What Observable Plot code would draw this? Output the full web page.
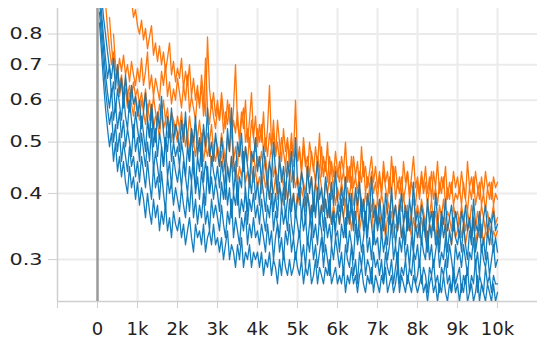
<!DOCTYPE html>
<html>
<head>
<meta charset="utf-8">
<script src="https://cdn.jsdelivr.net/npm/d3@7"></script>
<script src="https://cdn.jsdelivr.net/npm/@observablehq/plot@0.6"></script>
<style>
  html, body { margin: 0; padding: 0; background: #fff; }
</style>
</head>
<body>
<div id="chart"></div>
<script>
// Training steps (every 50 steps)
const steps = d3.range(50, 10001, 50);

// Blue runs (20 values per 1k steps)
const blue1 = [
  1.02,0.95,0.86,0.80,0.74,0.69,0.66,0.72,0.63,0.70,0.62,0.66,0.58,0.67,0.60,0.57,0.64,0.59,0.61,0.56,
  0.60,0.53,0.57,0.62,0.55,0.51,0.59,0.54,0.50,0.57,0.53,0.61,0.52,0.49,0.56,0.51,0.58,0.50,0.54,0.52,
  0.48,0.55,0.50,0.57,0.49,0.46,0.53,0.50,0.56,0.47,0.51,0.45,0.54,0.49,0.58,0.47,0.50,0.46,0.52,0.48,
  0.45,0.51,0.47,0.44,0.53,0.48,0.58,0.46,0.43,0.50,0.47,0.52,0.44,0.49,0.45,0.42,0.48,0.46,0.51,0.44,
  0.47,0.42,0.49,0.45,0.41,0.46,0.43,0.50,0.44,0.40,0.47,0.42,0.45,0.39,0.46,0.43,0.48,0.41,0.51,0.42,
  0.39,0.44,0.41,0.38,0.45,0.40,0.43,0.37,0.42,0.46,0.39,0.41,0.37,0.43,0.40,0.36,0.42,0.38,0.44,0.39,
  0.37,0.41,0.38,0.43,0.36,0.40,0.37,0.35,0.41,0.38,0.42,0.36,0.39,0.35,0.40,0.37,0.43,0.36,0.38,0.35,
  0.39,0.36,0.34,0.40,0.37,0.35,0.41,0.36,0.38,0.34,0.37,0.40,0.35,0.38,0.34,0.39,0.36,0.42,0.35,0.37,
  0.34,0.38,0.36,0.33,0.39,0.35,0.37,0.34,0.40,0.36,0.33,0.37,0.35,0.39,0.34,0.36,0.38,0.34,0.37,0.35,
  0.33,0.37,0.35,0.38,0.34,0.36,0.33,0.39,0.35,0.34,0.37,0.33,0.36,0.38,0.34,0.36,0.35,0.37,0.34,0.35];
const blue2 = [
  0.96,0.88,0.79,0.72,0.66,0.70,0.61,0.65,0.57,0.63,0.59,0.55,0.62,0.56,0.53,0.60,0.55,0.51,0.57,0.53,
  0.50,0.56,0.52,0.48,0.55,0.51,0.58,0.49,0.53,0.47,0.52,0.49,0.45,0.51,0.48,0.54,0.46,0.50,0.47,0.49,
  0.45,0.50,0.47,0.43,0.49,0.46,0.52,0.44,0.41,0.47,0.44,0.50,0.42,0.46,0.43,0.40,0.47,0.44,0.42,0.45,
  0.41,0.46,0.43,0.39,0.45,0.42,0.47,0.40,0.44,0.38,0.43,0.41,0.48,0.40,0.37,0.43,0.40,0.45,0.39,0.42,
  0.38,0.43,0.40,0.37,0.42,0.39,0.44,0.37,0.40,0.36,0.42,0.38,0.41,0.36,0.39,0.43,0.37,0.40,0.36,0.39,
  0.41,0.36,0.39,0.35,0.40,0.37,0.34,0.39,0.36,0.41,0.35,0.38,0.34,0.39,0.36,0.40,0.35,0.37,0.34,0.38,
  0.35,0.39,0.36,0.33,0.38,0.35,0.40,0.34,0.37,0.33,0.36,0.39,0.34,0.37,0.33,0.38,0.35,0.32,0.37,0.34,
  0.36,0.33,0.38,0.34,0.32,0.37,0.34,0.36,0.32,0.35,0.38,0.33,0.35,0.32,0.37,0.34,0.36,0.31,0.35,0.33,
  0.35,0.32,0.36,0.33,0.31,0.35,0.33,0.37,0.32,0.34,0.31,0.36,0.33,0.35,0.31,0.34,0.32,0.36,0.33,0.32,
  0.34,0.31,0.35,0.32,0.30,0.34,0.32,0.36,0.31,0.33,0.35,0.31,0.33,0.30,0.34,0.32,0.35,0.31,0.33,0.31];
const blue3 = [
  0.92,0.84,0.75,0.67,0.62,0.58,0.63,0.55,0.59,0.53,0.57,0.51,0.55,0.49,0.53,0.50,0.47,0.54,0.48,0.51,
  0.46,0.52,0.48,0.45,0.50,0.46,0.53,0.44,0.48,0.45,0.42,0.49,0.45,0.51,0.43,0.46,0.41,0.47,0.44,0.42,
  0.45,0.41,0.46,0.43,0.40,0.45,0.42,0.48,0.40,0.43,0.39,0.44,0.41,0.38,0.45,0.40,0.43,0.39,0.42,0.40,
  0.37,0.42,0.39,0.44,0.38,0.41,0.36,0.40,0.38,0.42,0.36,0.39,0.37,0.41,0.35,0.39,0.37,0.40,0.36,0.38,
  0.35,0.39,0.36,0.34,0.38,0.36,0.40,0.34,0.37,0.35,0.33,0.38,0.35,0.37,0.34,0.39,0.35,0.33,0.37,0.35,
  0.33,0.37,0.34,0.36,0.32,0.35,0.38,0.33,0.35,0.32,0.36,0.34,0.31,0.36,0.33,0.35,0.32,0.37,0.33,0.34,
  0.31,0.35,0.33,0.36,0.31,0.34,0.32,0.30,0.35,0.32,0.34,0.31,0.33,0.36,0.31,0.33,0.30,0.34,0.32,0.33,
  0.30,0.34,0.31,0.33,0.30,0.32,0.35,0.30,0.32,0.29,0.33,0.31,0.34,0.30,0.32,0.29,0.33,0.31,0.30,0.32,
  0.29,0.33,0.31,0.30,0.34,0.30,0.32,0.29,0.31,0.33,0.29,0.31,0.30,0.33,0.29,0.32,0.30,0.28,0.32,0.30,
  0.31,0.29,0.32,0.30,0.28,0.31,0.30,0.33,0.29,0.31,0.28,0.32,0.30,0.29,0.31,0.28,0.30,0.32,0.29,0.30];
const blue4 = [
  0.88,0.79,0.70,0.63,0.58,0.54,0.57,0.50,0.54,0.48,0.52,0.46,0.50,0.47,0.44,0.49,0.45,0.47,0.43,0.46,
  0.42,0.47,0.44,0.41,0.46,0.42,0.39,0.45,0.41,0.43,0.39,0.44,0.40,0.37,0.43,0.40,0.42,0.38,0.41,0.39,
  0.37,0.41,0.38,0.36,0.40,0.37,0.42,0.36,0.39,0.35,0.38,0.36,0.40,0.35,0.37,0.34,0.39,0.36,0.38,0.36,
  0.34,0.38,0.35,0.33,0.37,0.35,0.39,0.33,0.36,0.34,0.32,0.36,0.34,0.37,0.32,0.35,0.33,0.36,0.33,0.34,
  0.32,0.35,0.33,0.31,0.35,0.32,0.34,0.30,0.33,0.35,0.31,0.33,0.30,0.34,0.32,0.35,0.31,0.33,0.30,0.32,
  0.34,0.30,0.32,0.29,0.33,0.31,0.34,0.30,0.32,0.29,0.31,0.33,0.29,0.32,0.30,0.28,0.32,0.30,0.33,0.31,
  0.29,0.31,0.28,0.32,0.30,0.29,0.32,0.28,0.30,0.27,0.31,0.29,0.32,0.28,0.30,0.29,0.27,0.31,0.29,0.30,
  0.28,0.30,0.27,0.31,0.29,0.28,0.30,0.27,0.29,0.31,0.27,0.29,0.28,0.30,0.27,0.29,0.28,0.31,0.27,0.28,
  0.30,0.27,0.29,0.28,0.26,0.29,0.28,0.30,0.27,0.28,0.26,0.29,0.28,0.30,0.27,0.28,0.26,0.29,0.27,0.28,
  0.29,0.26,0.28,0.27,0.29,0.26,0.28,0.27,0.30,0.26,0.28,0.27,0.26,0.29,0.27,0.28,0.26,0.28,0.27,0.27];
const blue5 = [
  0.84,0.74,0.65,0.58,0.53,0.49,0.52,0.46,0.50,0.44,0.47,0.43,0.46,0.42,0.40,0.45,0.41,0.43,0.39,0.42,
  0.38,0.41,0.39,0.36,0.40,0.37,0.35,0.39,0.36,0.38,0.34,0.37,0.35,0.38,0.34,0.36,0.33,0.37,0.35,0.34,
  0.36,0.33,0.35,0.32,0.34,0.36,0.33,0.31,0.35,0.33,0.34,0.32,0.35,0.31,0.33,0.34,0.32,0.35,0.32,0.33,
  0.31,0.33,0.30,0.32,0.34,0.30,0.32,0.31,0.29,0.32,0.30,0.33,0.29,0.31,0.30,0.32,0.29,0.31,0.30,0.31,
  0.29,0.31,0.28,0.30,0.29,0.31,0.28,0.30,0.29,0.27,0.30,0.28,0.31,0.29,0.28,0.30,0.28,0.29,0.31,0.29,
  0.28,0.30,0.27,0.29,0.28,0.30,0.27,0.28,0.30,0.27,0.29,0.28,0.27,0.29,0.28,0.30,0.27,0.28,0.29,0.27,
  0.28,0.27,0.29,0.26,0.28,0.27,0.29,0.27,0.28,0.26,0.28,0.29,0.27,0.26,0.28,0.27,0.29,0.26,0.28,0.27,
  0.26,0.28,0.27,0.29,0.26,0.27,0.28,0.26,0.27,0.29,0.26,0.28,0.27,0.26,0.28,0.27,0.26,0.28,0.27,0.26,
  0.27,0.28,0.26,0.27,0.25,0.27,0.28,0.26,0.27,0.25,0.27,0.26,0.28,0.26,0.25,0.27,0.26,0.28,0.26,0.27,
  0.25,0.27,0.26,0.28,0.25,0.26,0.27,0.25,0.26,0.28,0.25,0.27,0.26,0.25,0.27,0.26,0.25,0.27,0.25,0.26];

// Orange runs (null = run not yet logging)
const orange1 = [
  null,null,null,null,null,null,null,null,null,null,null,null,null,null,0.96,0.90,0.93,0.86,0.89,0.83,
  0.80,0.85,0.78,0.82,0.75,0.79,0.83,0.73,0.77,0.71,0.76,0.70,0.74,0.68,0.72,0.77,0.67,0.71,0.65,0.69,
  0.66,0.72,0.63,0.68,0.64,0.70,0.61,0.66,0.60,0.64,0.58,0.67,0.61,0.56,0.79,0.63,0.58,0.62,0.56,0.60,
  0.55,0.62,0.57,0.53,0.60,0.55,0.52,0.58,0.70,0.54,0.51,0.57,0.53,0.60,0.50,0.55,0.62,0.51,0.56,0.49,
  0.54,0.50,0.57,0.48,0.53,0.64,0.49,0.52,0.47,0.55,0.50,0.46,0.53,0.48,0.51,0.45,0.50,0.47,0.60,0.46,
  0.49,0.44,0.51,0.46,0.43,0.50,0.47,0.44,0.49,0.45,0.52,0.43,0.47,0.44,0.50,0.42,0.46,0.43,0.48,0.44,
  0.42,0.47,0.44,0.50,0.42,0.45,0.41,0.47,0.43,0.46,0.41,0.49,0.43,0.45,0.41,0.44,0.47,0.42,0.45,0.41,
  0.44,0.40,0.46,0.42,0.44,0.40,0.47,0.42,0.45,0.41,0.43,0.39,0.46,0.42,0.44,0.40,0.43,0.47,0.41,0.43,
  0.40,0.44,0.41,0.45,0.40,0.43,0.39,0.44,0.41,0.46,0.40,0.43,0.41,0.45,0.39,0.42,0.40,0.44,0.41,0.43,
  0.40,0.44,0.41,0.39,0.46,0.41,0.43,0.40,0.44,0.41,0.39,0.43,0.40,0.44,0.41,0.42,0.39,0.43,0.41,0.42];
const orange2 = [
  null,null,null,0.92,0.82,0.75,0.70,0.74,0.69,0.66,0.72,0.68,0.73,0.67,0.70,0.65,0.71,0.67,0.64,0.69,
  0.65,0.72,0.64,0.68,0.74,0.63,0.67,0.61,0.66,0.63,0.60,0.68,0.64,0.70,0.61,0.65,0.59,0.63,0.60,0.66,
  0.62,0.58,0.64,0.60,0.67,0.57,0.61,0.58,0.55,0.62,0.59,0.64,0.56,0.72,0.58,0.54,0.60,0.56,0.53,0.58,
  0.55,0.60,0.52,0.57,0.54,0.59,0.51,0.55,0.52,0.57,0.50,0.55,0.58,0.50,0.53,0.49,0.55,0.51,0.48,0.53,
  0.50,0.54,0.48,0.51,0.47,0.52,0.49,0.55,0.47,0.50,0.46,0.51,0.48,0.45,0.50,0.47,0.52,0.45,0.48,0.46,
  0.48,0.44,0.49,0.45,0.47,0.43,0.48,0.45,0.42,0.47,0.44,0.49,0.43,0.46,0.42,0.47,0.44,0.41,0.45,0.43,
  0.46,0.42,0.44,0.41,0.45,0.42,0.47,0.41,0.43,0.40,0.44,0.42,0.46,0.40,0.43,0.41,0.44,0.40,0.42,0.39,
  0.43,0.40,0.44,0.41,0.39,0.43,0.40,0.45,0.39,0.42,0.40,0.43,0.39,0.41,0.44,0.39,0.42,0.40,0.38,0.42,
  0.39,0.43,0.40,0.42,0.38,0.41,0.44,0.39,0.41,0.38,0.42,0.40,0.43,0.38,0.41,0.39,0.42,0.38,0.40,0.39,
  0.41,0.38,0.42,0.39,0.37,0.41,0.39,0.43,0.38,0.40,0.42,0.38,0.40,0.37,0.41,0.39,0.42,0.38,0.40,0.39];
const orange3 = [
  null,null,null,null,null,0.86,0.76,0.70,0.66,0.69,0.64,0.67,0.62,0.66,0.61,0.64,0.60,0.65,0.61,0.63,
  0.59,0.62,0.58,0.63,0.57,0.60,0.56,0.61,0.57,0.54,0.59,0.56,0.60,0.55,0.58,0.53,0.57,0.55,0.52,0.56,
  0.53,0.57,0.52,0.55,0.51,0.56,0.52,0.49,0.54,0.51,0.55,0.50,0.53,0.48,0.52,0.50,0.54,0.48,0.51,0.49,
  0.47,0.52,0.49,0.46,0.51,0.48,0.53,0.46,0.49,0.45,0.50,0.47,0.44,0.49,0.46,0.51,0.45,0.48,0.44,0.47,
  0.45,0.48,0.44,0.47,0.43,0.46,0.49,0.43,0.45,0.42,0.46,0.44,0.41,0.45,0.43,0.47,0.42,0.44,0.41,0.43,
  0.41,0.44,0.42,0.40,0.44,0.41,0.43,0.39,0.42,0.40,0.44,0.41,0.38,0.42,0.40,0.43,0.39,0.41,0.38,0.41,
  0.39,0.42,0.40,0.38,0.41,0.39,0.43,0.38,0.40,0.37,0.41,0.39,0.37,0.40,0.38,0.41,0.37,0.39,0.36,0.39,
  0.37,0.40,0.38,0.36,0.39,0.37,0.40,0.36,0.38,0.35,0.39,0.37,0.40,0.36,0.38,0.35,0.37,0.39,0.36,0.38,
  0.36,0.39,0.37,0.35,0.38,0.36,0.39,0.35,0.37,0.34,0.38,0.36,0.39,0.35,0.37,0.36,0.34,0.38,0.36,0.37,
  0.35,0.38,0.36,0.34,0.37,0.35,0.38,0.36,0.34,0.37,0.35,0.38,0.36,0.34,0.37,0.35,0.36,0.38,0.35,0.36];
const orange4 = [
  null,null,null,null,null,null,null,0.80,0.70,0.65,0.61,0.65,0.60,0.63,0.58,0.62,0.59,0.56,0.61,0.58,
  0.55,0.60,0.57,0.54,0.59,0.55,0.58,0.53,0.56,0.54,0.51,0.57,0.53,0.55,0.51,0.54,0.50,0.55,0.52,0.50,
  0.53,0.50,0.54,0.49,0.52,0.48,0.53,0.50,0.47,0.51,0.48,0.52,0.46,0.49,0.47,0.50,0.45,0.48,0.46,0.49,
  0.45,0.48,0.44,0.47,0.45,0.43,0.47,0.44,0.46,0.42,0.45,0.43,0.46,0.42,0.44,0.41,0.45,0.42,0.44,0.41,
  0.43,0.40,0.44,0.41,0.43,0.39,0.42,0.40,0.43,0.39,0.41,0.40,0.38,0.42,0.39,0.41,0.38,0.40,0.37,0.40,
  0.38,0.41,0.39,0.37,0.40,0.38,0.36,0.39,0.37,0.40,0.36,0.38,0.37,0.39,0.36,0.38,0.35,0.38,0.36,0.37,
  0.35,0.38,0.36,0.39,0.35,0.37,0.34,0.37,0.36,0.38,0.34,0.36,0.35,0.37,0.34,0.36,0.38,0.34,0.36,0.35,
  0.37,0.34,0.36,0.33,0.36,0.35,0.37,0.33,0.35,0.34,0.36,0.33,0.35,0.37,0.34,0.35,0.33,0.36,0.34,0.35,
  0.33,0.36,0.34,0.35,0.32,0.35,0.34,0.36,0.33,0.35,0.32,0.34,0.36,0.33,0.35,0.34,0.32,0.35,0.33,0.34,
  0.36,0.33,0.35,0.32,0.34,0.35,0.33,0.36,0.32,0.34,0.33,0.35,0.32,0.34,0.33,0.35,0.32,0.34,0.33,0.34];

const xTicks = [-1000, 0, 1000, 2000, 3000, 4000, 5000, 6000, 7000, 8000, 9000, 10000];
const yTicks = [0.3, 0.4, 0.5, 0.6, 0.7, 0.8];

const ORANGE = "#ff7000";
const BLUE = "#0a77bb";

const series = [
  {name: "orange1", color: ORANGE, values: orange1},
  {name: "orange2", color: ORANGE, values: orange2},
  {name: "orange3", color: ORANGE, values: orange3},
  {name: "orange4", color: ORANGE, values: orange4},
  {name: "blue1", color: BLUE, values: blue1},
  {name: "blue2", color: BLUE, values: blue2},
  {name: "blue3", color: BLUE, values: blue3},
  {name: "blue4", color: BLUE, values: blue4},
  {name: "blue5", color: BLUE, values: blue5}
];

const rows = [];
for (const s of series) {
  s.values.forEach((v, i) => {
    if (v != null) rows.push({step: steps[i], value: v, run: s.name, color: s.color});
  });
}

const fmt = d => d < 0 ? "" : d === 0 ? "0" : (d / 1000) + "k";

const chart = Plot.plot({
  width: 537,
  height: 343,
  marginLeft: 57,
  marginTop: 8,
  marginBottom: 42,
  marginRight: 0,
  style: {fontFamily: "DejaVu Sans", fontSize: "18px", color: "#222", background: "#fff"},
  x: {domain: [-1000, 11000]},
  y: {type: "log", domain: [0.25, 0.894]},
  marks: [
    Plot.gridX(xTicks.filter(d => d > 0), {stroke: "#ebebeb", strokeOpacity: 1, strokeWidth: 2}),
    Plot.gridY(yTicks, {stroke: "#ebebeb", strokeOpacity: 1, strokeWidth: 2}),
    Plot.ruleX([-1000], {stroke: "#cfcfcf", strokeWidth: 1.5}),
    Plot.ruleY([0.25], {stroke: "#cfcfcf", strokeWidth: 1.5}),
    Plot.ruleX([0], {stroke: "#9a9a9a", strokeWidth: 2.5}),
    Plot.axisX(xTicks, {tickFormat: fmt, tickSize: 7, tickPadding: 14, stroke: "#cfcfcf", fill: "#222", fontSize: 18, label: null}),
    Plot.axisY(yTicks, {tickFormat: d => String(d), tickSize: 9, tickPadding: 6, stroke: "#cfcfcf", fill: "#222", fontSize: 16, label: null}),
    Plot.line(rows, {x: "step", y: "value", z: "run", stroke: "color", strokeWidth: 1.3, strokeOpacity: 0.95, clip: true})
  ]
});
// y tick labels in the reference are horizontally wider
d3.select(chart).selectAll("text").each(function () {
  const t = this.textContent;
  if (/^0\.\d$/.test(t)) {
    d3.select(this).attr("textLength", 33).attr("lengthAdjust", "spacingAndGlyphs");
  }
});
document.getElementById("chart").appendChild(chart);
</script>
</body>
</html>
